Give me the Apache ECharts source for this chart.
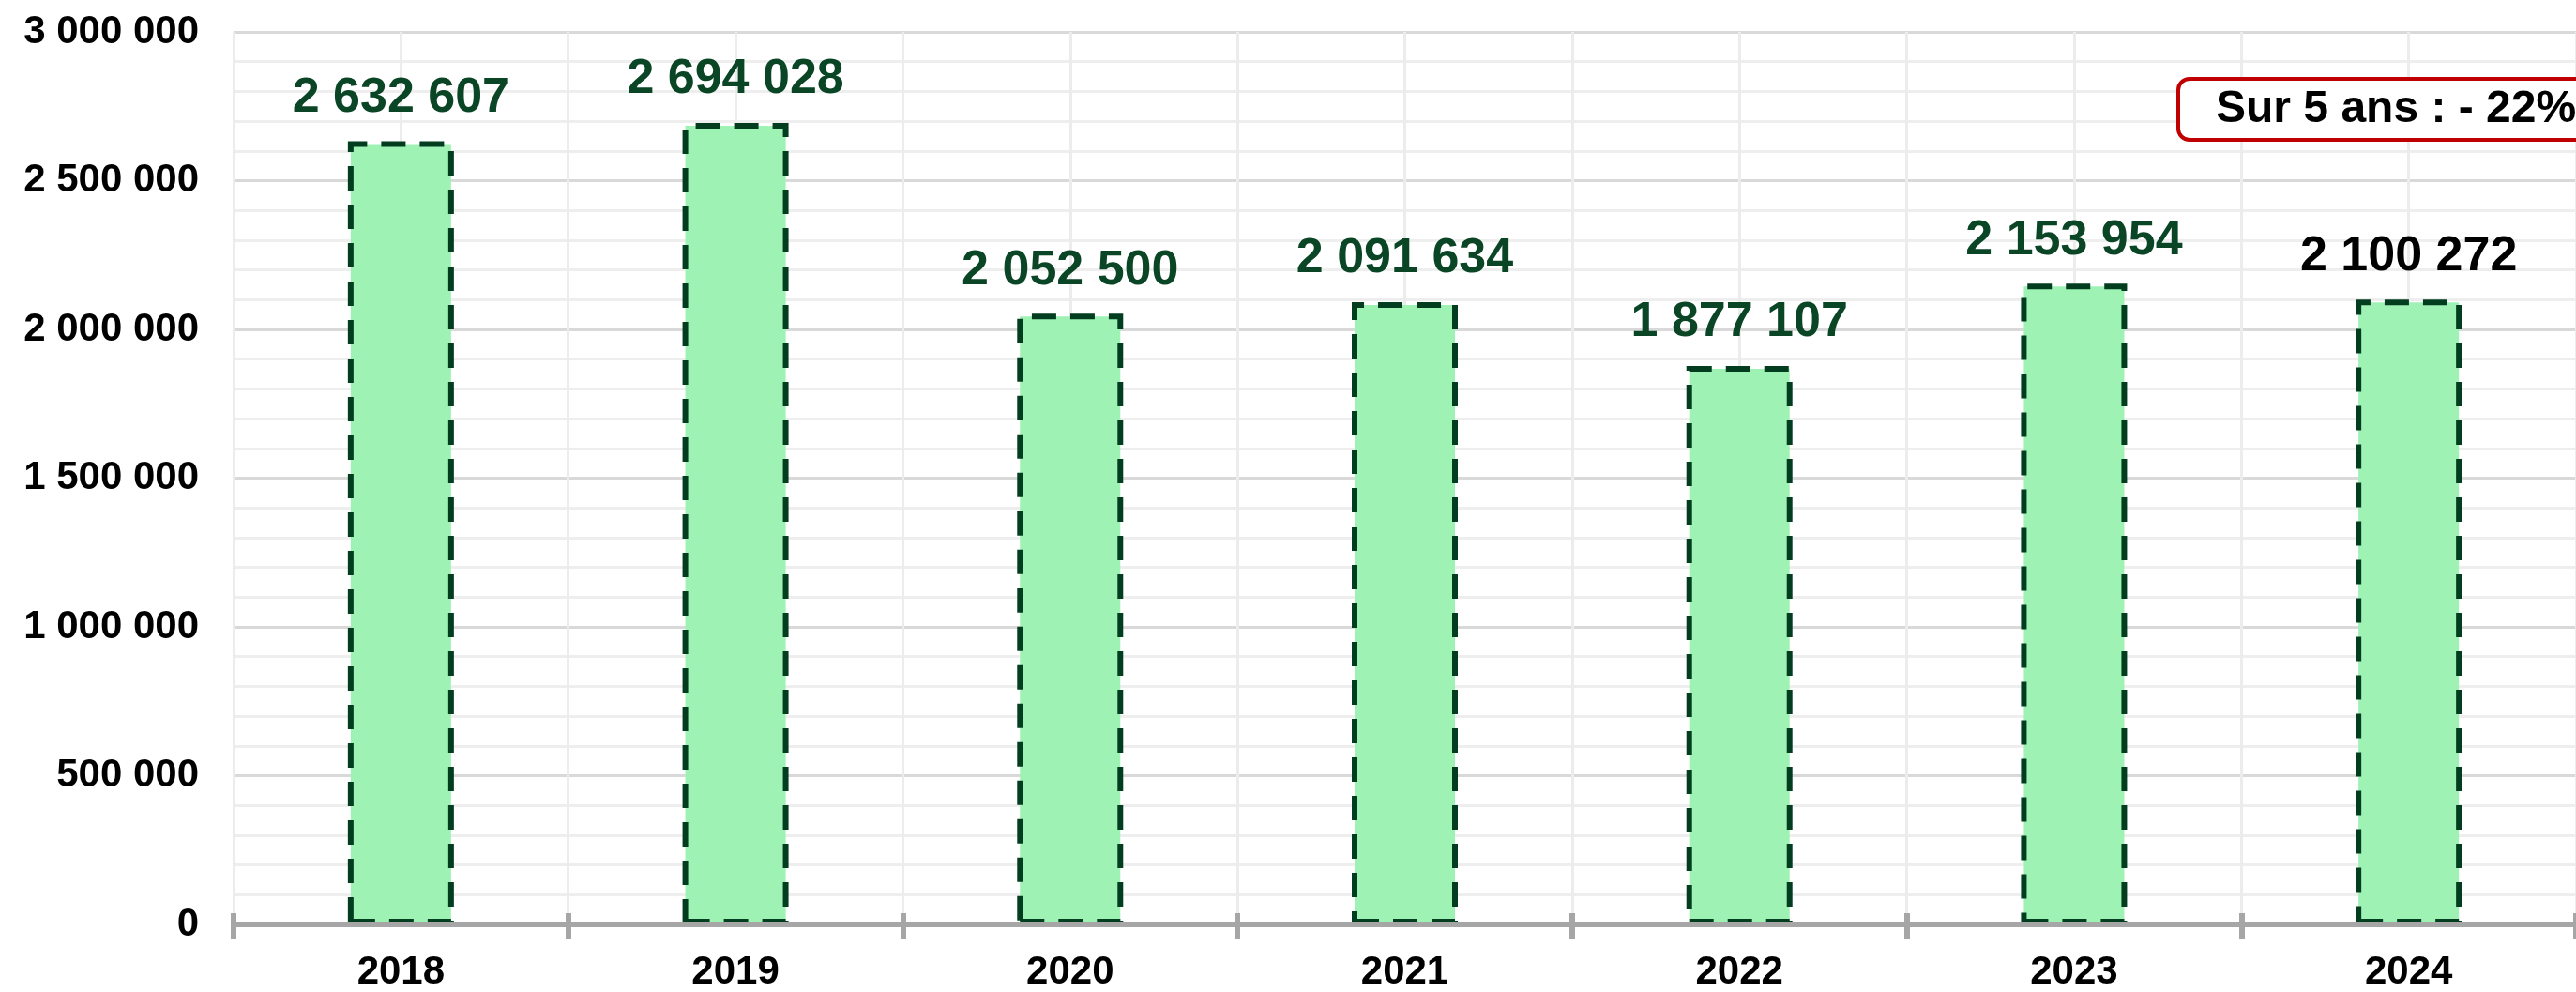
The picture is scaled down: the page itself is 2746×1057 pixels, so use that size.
<!DOCTYPE html>
<html>
<head>
<meta charset="utf-8">
<script src="https://cdn.jsdelivr.net/npm/echarts@6/dist/echarts.min.js"></script>
<style>
html,body{margin:0;padding:0;background:#fff;}
#chart{width:2746px;height:1057px;}
</style>
</head>
<body>
<div id="chart"></div>
<script>
const categories = ['2018', '2019', '2020', '2021', '2022', '2023', '2024'];
const values = [2632607, 2694028, 2052500, 2091634, 1877107, 2153954, 2100272];
const annotationText = 'Sur 5 ans : - 22%';

const FONT = '"Liberation Sans", Arial, sans-serif';
function fmt(v) {
  return String(v).replace(/\B(?=(\d{3})+(?!\d))/g, ' ');
}

const chart = echarts.init(document.getElementById('chart'));
const barData = values.map((v, i) => ({
  value: v,
  label: { color: i === values.length - 1 ? '#000000' : '#0a4526' }
}));

const option = {
  animation: false,
  backgroundColor: '#ffffff',
  grid: { left: 249, right: -17, top: 34, bottom: 69, containLabel: false },
  xAxis: [
    {
      type: 'category',
      data: categories,
      boundaryGap: true,
      axisLine: { show: true, lineStyle: { color: '#a6a6a6', width: 6 } },
      axisTick: { show: true, length: 15, lineStyle: { color: '#a6a6a6', width: 6 } },
      axisLabel: { show: true, color: '#000', fontFamily: FONT, fontWeight: 'bold', fontSize: 42, margin: 30 },
      splitLine: { show: false },
      z: 5
    },
    {
      type: 'value',
      min: 0,
      max: categories.length * 2,
      interval: 1,
      position: 'bottom',
      axisLine: { show: false },
      axisTick: { show: false },
      axisLabel: { show: false },
      splitLine: { show: true, lineStyle: { color: '#ececec', width: 3 } }
    },
    {
      type: 'category',
      data: categories,
      boundaryGap: true,
      position: 'bottom',
      axisLine: { show: false },
      axisTick: { show: true, inside: true, length: 12, lineStyle: { color: '#a6a6a6', width: 6 } },
      axisLabel: { show: false },
      splitLine: { show: false },
      z: 5
    }
  ],
  yAxis: {
    type: 'value',
    min: 0,
    max: 3000000,
    interval: 500000,
    axisLine: { show: false },
    axisTick: { show: false },
    axisLabel: {
      color: '#000', fontFamily: FONT, fontWeight: 'bold', fontSize: 42, margin: 37,
      formatter: v => fmt(v)
    },
    splitLine: { show: true, lineStyle: { color: '#d9d9d9', width: 3 } },
    minorTick: { show: false, splitNumber: 5 },
    minorSplitLine: { show: true, lineStyle: { color: '#eeeeee', width: 3 } }
  },
  series: [{
    type: 'bar',
    xAxisIndex: 0,
    data: barData,
    barWidth: 113,
    itemStyle: {
      color: '#9df2b4',
      borderColor: '#033d1f',
      borderWidth: 6,
      borderType: [26, 15]
    },
    label: {
      show: true,
      position: 'top',
      distance: 20,
      fontFamily: FONT,
      fontWeight: 'bold',
      fontSize: 52,
      formatter: p => fmt(p.value)
    },
    z: 3
  }],
  graphic: [{
    type: 'group',
    left: 2320,
    top: 82,
    z: 100,
    children: [
      {
        type: 'rect',
        z: 100,
        shape: { x: 0, y: 0, width: 480, height: 65, r: 12 },
        style: { fill: '#ffffff', stroke: '#c00000', lineWidth: 4 }
      },
      {
        type: 'text',
        z: 101,
        x: 40,
        y: 33,
        style: {
          text: annotationText,
          fill: '#000',
          font: 'bold 48px "Liberation Sans", Arial, sans-serif',
          verticalAlign: 'middle'
        }
      }
    ]
  }]
};
chart.setOption(option);
</script>
</body>
</html>
